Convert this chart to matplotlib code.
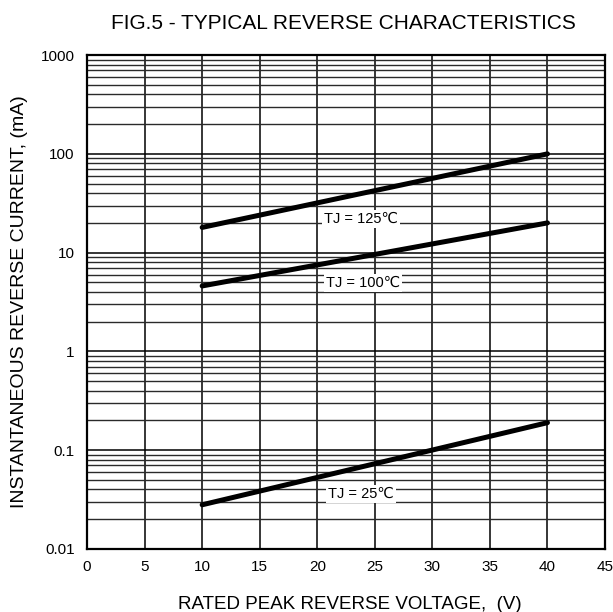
"""FIG.5 typical reverse characteristics, redrawn."""
import matplotlib
matplotlib.use("Agg")
import matplotlib.pyplot as plt
from matplotlib.ticker import FixedLocator, NullFormatter

plt.rcParams["font.family"] = ["Liberation Sans", "DejaVu Sans"]

# rated peak reverse voltage (V) vs instantaneous reverse current (mA)
voltage = [10, 40]
current_125 = [18, 100]
current_100 = [4.6, 20]
current_25 = [0.028, 0.19]

curve_labels = ["TJ = 125\u2103", "TJ = 100\u2103", "TJ = 25\u2103"]
label_pos = [(23.8, 22), (24.0, 4.9), (23.8, 0.036)]

x_ticks = [0, 5, 10, 15, 20, 25, 30, 35, 40, 45]
y_ticks = [0.01, 0.1, 1, 10, 100, 1000]
y_tick_labels = ["0.01", "0.1", "1", "10", "100", "1000"]

fig = plt.figure(figsize=(6.13, 6.12), dpi=100)
ax = fig.add_axes([0.142, 0.103, 0.845, 0.807])

ax.set_yscale("log")
ax.set_xlim(0, 45)
ax.set_ylim(0.01, 1000)

ax.set_xticks(x_ticks)
ax.set_yticks(y_ticks)
ax.set_yticklabels(y_tick_labels)
minor = [m * 10.0 ** e for e in range(-2, 3) for m in range(2, 10)]
ax.yaxis.set_minor_locator(FixedLocator(minor))
ax.yaxis.set_minor_formatter(NullFormatter())

ax.grid(True, which="major", axis="both", color="black", lw=1.1)
ax.grid(True, which="minor", axis="y", color="#2a2a2a", lw=1.0)
ax.tick_params(which="both", length=0)
ax.tick_params(axis="y", pad=9, labelsize=11)
ax.tick_params(axis="x", pad=8, labelsize=11)
for s in ax.spines.values():
    s.set_linewidth(1.6)

for cur in (current_125, current_100, current_25):
    ax.plot(voltage, cur, color="black", lw=3.6, solid_capstyle="round", zorder=3)

for txt, (x, y) in zip(curve_labels, label_pos):
    ax.text(x, y, txt, ha="center", va="center", fontsize=10.5, zorder=4,
            bbox=dict(facecolor="white", edgecolor="none", pad=1.5))

fig.text(0.561, 0.962, "FIG.5 - TYPICAL REVERSE CHARACTERISTICS",
         ha="center", va="center", fontsize=15)
ax.set_xlabel("RATED PEAK REVERSE VOLTAGE,  (V)", fontsize=13.5, labelpad=13)
ax.xaxis.set_label_coords(0.508, -0.095)
ax.set_ylabel("INSTANTANEOUS REVERSE CURRENT, (mA)", fontsize=14, labelpad=9)

fig.savefig("out.png", dpi=100)
